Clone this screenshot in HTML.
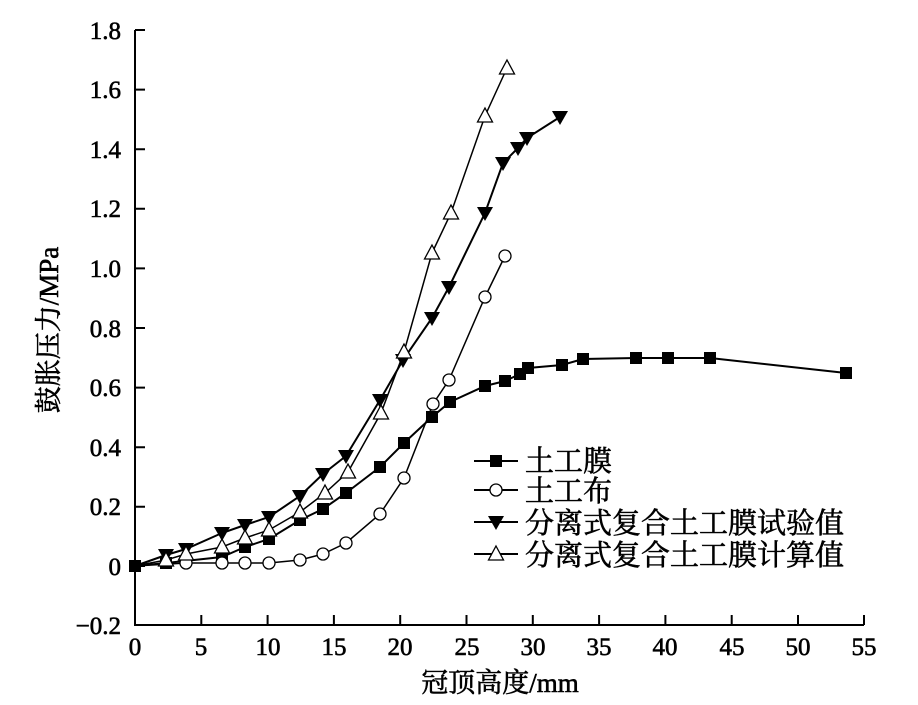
<!DOCTYPE html><html><head><meta charset="utf-8"><style>body{margin:0;background:#fff}svg{display:block}text{font-family:"Liberation Serif","Noto Serif CJK SC",serif;fill:#000;stroke:#000;stroke-width:0.6}</style></head><body>
<svg width="918" height="705" viewBox="0 0 918 705">
<g stroke="#000" stroke-width="2" fill="none">
<path d="M135 30V625H864"/>
<path d="M135 30h10M135 89.6h10M135 149.2h10M135 208.8h10M135 268.4h10M135 328h10M135 387.6h10M135 447.2h10M135 506.8h10M135 566h10"/>
<path d="M201.3 625v-10M267.6 625v-10M333.9 625v-10M400.2 625v-10M466.5 625v-10M532.8 625v-10M599.1 625v-10M665.4 625v-10M731.7 625v-10M798 625v-10M864 625v-10"/>
</g>
<g font-size="25" text-anchor="end">
<text x="121" y="39">1.8</text><text x="121" y="98">1.6</text><text x="121" y="158">1.4</text><text x="121" y="217">1.2</text><text x="121" y="277">1.0</text><text x="121" y="337">0.8</text><text x="121" y="396">0.6</text><text x="121" y="456">0.4</text><text x="121" y="515">0.2</text><text x="121" y="575">0</text><text x="121" y="634">−0.2</text>
</g>
<g font-size="25" text-anchor="middle">
<text x="135" y="655">0</text><text x="201" y="655">5</text><text x="268" y="655">10</text><text x="334" y="655">15</text><text x="400" y="655">20</text><text x="467" y="655">25</text><text x="533" y="655">30</text><text x="599" y="655">35</text><text x="665" y="655">40</text><text x="732" y="655">45</text><text x="798" y="655">50</text><text x="864" y="655">55</text>
<text x="500" y="692" font-size="27">冠顶高度/mm</text>
<text transform="translate(58 330) rotate(-90)" font-size="27">鼓胀压力/MPa</text>
</g>
<defs>
<rect id="sq" x="-6" y="-6" width="12" height="12" fill="#000"/>
<circle id="ci" r="6" fill="#fff" stroke="#000" stroke-width="1.3"/>
<path id="td" d="M-8 -6H8L0 8Z" fill="#000"/>
<path id="tu" d="M0 -8L7.5 6H-7.5Z" fill="#fff" stroke="#000" stroke-width="1.3"/>
</defs>
<g fill="none" stroke="#000" stroke-width="2">
<polyline points="135,566 166,563 222,557 245,547 269,539 300,520 323,509 346,493 380,467 404,443 432,417 450,402 485,386 505,381 520,374 528,368 562,365 583,359 636,358 668,358 710,358 846,373"/>
<polyline stroke-width="1.5" points="135,566 186,563 222,563 245,563 269,563 300,560 323,554 346,543 380,514 404,478 433,404 449,380 485,297 505,256"/>
<polyline points="135,566 166,555 186,549 222,533 245,525 269,517 300,496 323,474 346,456 380,400 403,360 432,318 449,287 485,213 503,163 518,148 527,138 560,117"/>
<polyline stroke-width="1.5" points="135,566 166,560 186,554 222,547 245,538 269,530 300,512 325,493 348,472 381,413 404,352 432,253 451,213 485,116 507,68"/>
<path d="M474 461h44M474 490h44M474 522h44M474 554h44"/>
</g>
<g>
<use href="#sq" x="135" y="566"/><use href="#sq" x="166" y="563"/><use href="#sq" x="222" y="557"/><use href="#sq" x="245" y="547"/><use href="#sq" x="269" y="539"/><use href="#sq" x="300" y="520"/><use href="#sq" x="323" y="509"/><use href="#sq" x="346" y="493"/><use href="#sq" x="380" y="467"/><use href="#sq" x="404" y="443"/><use href="#sq" x="432" y="417"/><use href="#sq" x="450" y="402"/><use href="#sq" x="485" y="386"/><use href="#sq" x="505" y="381"/><use href="#sq" x="520" y="374"/><use href="#sq" x="528" y="368"/><use href="#sq" x="562" y="365"/><use href="#sq" x="583" y="359"/><use href="#sq" x="636" y="358"/><use href="#sq" x="668" y="358"/><use href="#sq" x="710" y="358"/><use href="#sq" x="846" y="373"/>
<use href="#ci" x="186" y="563"/><use href="#ci" x="222" y="563"/><use href="#ci" x="245" y="563"/><use href="#ci" x="269" y="563"/><use href="#ci" x="300" y="560"/><use href="#ci" x="323" y="554"/><use href="#ci" x="346" y="543"/><use href="#ci" x="380" y="514"/><use href="#ci" x="404" y="478"/><use href="#ci" x="433" y="404"/><use href="#ci" x="449" y="380"/><use href="#ci" x="485" y="297"/><use href="#ci" x="505" y="256"/>
<use href="#td" x="166" y="555"/><use href="#td" x="186" y="549"/><use href="#td" x="222" y="533"/><use href="#td" x="245" y="525"/><use href="#td" x="269" y="517"/><use href="#td" x="300" y="496"/><use href="#td" x="323" y="474"/><use href="#td" x="346" y="456"/><use href="#td" x="380" y="400"/><use href="#td" x="403" y="360"/><use href="#td" x="432" y="318"/><use href="#td" x="449" y="287"/><use href="#td" x="485" y="213"/><use href="#td" x="503" y="163"/><use href="#td" x="518" y="148"/><use href="#td" x="527" y="138"/><use href="#td" x="560" y="117"/>
<use href="#tu" x="166" y="560"/><use href="#tu" x="186" y="554"/><use href="#tu" x="222" y="547"/><use href="#tu" x="245" y="538"/><use href="#tu" x="269" y="530"/><use href="#tu" x="300" y="512"/><use href="#tu" x="325" y="493"/><use href="#tu" x="348" y="472"/><use href="#tu" x="381" y="413"/><use href="#tu" x="404" y="352"/><use href="#tu" x="432" y="253"/><use href="#tu" x="451" y="213"/><use href="#tu" x="485" y="116"/><use href="#tu" x="507" y="68"/>
<use href="#sq" x="135" y="566"/>
<use href="#sq" x="496" y="461"/><use href="#ci" x="496" y="490"/><use href="#td" x="496" y="522"/><use href="#tu" x="496" y="554"/>
</g>
<g font-size="29">
<text x="525" y="471">土工膜</text><text x="525" y="501">土工布</text><text x="525" y="533">分离式复合土工膜试验值</text><text x="525" y="565">分离式复合土工膜计算值</text>
</g>
</svg></body></html>
